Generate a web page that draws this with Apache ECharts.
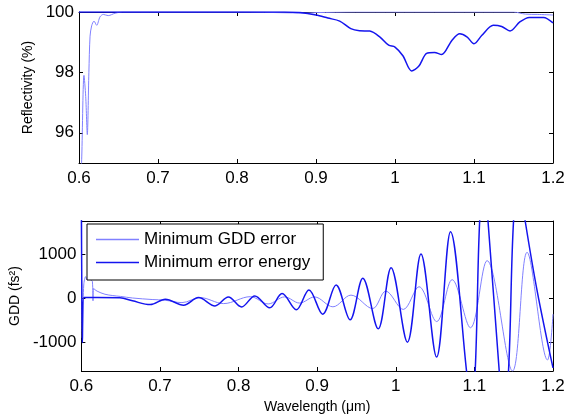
<!DOCTYPE html>
<html>
<head>
<meta charset="utf-8">
<script src="https://cdn.jsdelivr.net/npm/echarts@6/dist/echarts.min.js"></script>
<style>html,body{margin:0;padding:0;background:#fff}#c{width:568px;height:419px}</style>
</head>
<body>
<div id="c"></div>
<script>
// ---- data ----
var seriesNames = ['Minimum GDD error', 'Minimum error energy'];
var xTicks = [0.6, 0.7, 0.8, 0.9, 1.0, 1.1, 1.2];
var reflTicks = [96, 98, 100];
var gddTicks = [-1000, 0, 1000];

// Reflectivity (%) - Minimum GDD error (light)
var reflLightX = [0.6, 0.6035, 0.6063, 0.6085, 0.6105, 0.6125, 0.614, 0.616, 0.619, 0.6224, 0.6266, 0.6308, 0.637, 0.6456, 0.655, 0.70, 0.80, 0.87, 0.885, 0.90, 0.95, 1.0, 1.05, 1.1, 1.15, 1.165, 1.18, 1.2];
var reflLightY = [92, 95.2, 97.9, 97.2, 95.94, 98.0, 99.2, 99.54, 99.7, 99.56, 99.84, 99.92, 99.88, 99.96, 100, 100, 100, 99.97, 99.96, 99.98, 100, 100, 100, 100, 100, 99.93, 99.92, 99.9];

// Reflectivity (%) - Minimum error energy (dark)
var reflDarkX = [0.6, 0.86, 0.88, 0.9, 0.915, 0.93, 0.944, 0.955, 0.968, 0.981, 0.992, 1.0, 1.01, 1.021, 1.03, 1.04, 1.05, 1.059, 1.072, 1.082, 1.091, 1.1, 1.11, 1.1244, 1.135, 1.1456, 1.158, 1.17, 1.188, 1.2];
var reflDarkY = [100, 100, 99.98, 99.9, 99.8, 99.7, 99.45, 99.38, 99.37, 99.17, 98.9, 98.84, 98.55, 98.05, 98.2, 98.63, 98.66, 98.59, 99.06, 99.28, 99.18, 98.95, 99.23, 99.56, 99.52, 99.37, 99.67, 99.82, 99.82, 99.64];

// GDD (fs^2) - Minimum GDD error (light)
var gddLightX = [0.6, 0.6012, 0.603, 0.6055, 0.607, 0.609, 0.6115, 0.614, 0.6148, 0.6155, 0.62, 0.63, 0.64, 0.65, 0.665, 0.69, 0.706, 0.728, 0.751, 0.781, 0.815, 0.8376, 0.8586, 0.8776, 0.8966, 0.92, 0.943, 0.9705, 0.9873, 1.0095, 1.0295, 1.052, 1.0717, 1.095, 1.1161, 1.1485, 1.167, 1.193, 1.2];
var gddLightY = [2000, -900, 300, 490, 420, 500, 420, 380, -60, 220, 160, 90, 60, 40, 5, -30, -45, -100, 14, -122, 35, -130, 30, -110, 29, -195, 70, -235, 160, -255, 260, -530, 420, -670, 851, -1650, 1040, -1400, -360];

// GDD (fs^2) - Minimum error energy (dark)
var gddDarkX = [0.6, 0.6013, 0.603, 0.62, 0.649, 0.665, 0.6877, 0.7068, 0.73, 0.749, 0.77, 0.787, 0.8038, 0.8206, 0.8396, 0.8553, 0.8734, 0.8895, 0.907, 0.924, 0.9418, 0.958, 0.9776, 0.994, 1.0148, 1.032, 1.0519, 1.0696, 1.09, 1.0955, 1.101, 1.1067, 1.112, 1.1173, 1.1316, 1.137, 1.1434, 1.1498, 1.157, 1.1646, 1.18, 1.2];
var gddDarkY = [2500, -1010, 15, 15, 10, -60, -145, -23, -158, 14, -174, 29, -197, 52, -219, 105, -262, 188, -362, 300, -491, 452, -695, 693, -996, 1002, -1335, 1507, -1650, -2600, -1650, 1750, 2600, 1750, -1650, -2600, -1650, 1750, 2700, 1750, 150, -1580];

var reflMin = 95, reflMax = 100;
var gddMin = -1650, gddMax = 1750;

// ---- chart ----
function pairs(xs, ys) { return xs.map(function (x, i) { return [x, ys[i]]; }); }
var lightColor = '#8080ff', darkColor = '#1414ee';
var FONT = 'Liberation Sans, Arial, sans-serif';
var tickLabel = { color: '#000', fontFamily: FONT, fontSize: 17 };
var axLine = { show: true, onZero: false, lineStyle: { color: '#000', width: 1 } };
function axTick(vals) { return { show: true, inside: true, length: 4, customValues: vals, lineStyle: { color: '#000' } }; }

function xAx(grid, pos, labels, name) {
  return {
    type: 'value', gridIndex: grid, position: pos, min: xTicks[0], max: xTicks[xTicks.length - 1],
    axisLine: axLine, axisTick: axTick(xTicks), splitLine: { show: false },
    axisLabel: labels ? Object.assign({ margin: 7, customValues: xTicks, formatter: function (v) { return String(+(+v).toFixed(2)); } }, tickLabel) : { show: false },
    name: name || '', nameLocation: 'middle', nameGap: 29,
    nameTextStyle: { color: '#000', fontFamily: FONT, fontSize: 14 }
  };
}
function yAx(grid, pos, labels, mn, mx, ticks, name, gap) {
  return {
    type: 'value', gridIndex: grid, position: pos, min: mn, max: mx,
    axisLine: axLine, axisTick: axTick(ticks), splitLine: { show: false },
    axisLabel: labels ? Object.assign({ margin: 5, customValues: ticks, formatter: function (v) { return String(Math.round(v)); } }, tickLabel) : { show: false },
    name: name || '', nameLocation: 'middle', nameGap: gap || 40, nameRotate: 90,
    nameTextStyle: { color: '#000', fontFamily: FONT, fontSize: 14 }
  };
}

var chart = echarts.init(document.getElementById('c'), null, { renderer: 'canvas' });
chart.setOption({
  animation: false,
  backgroundColor: '#fff',
  grid: [
    { left: 79, top: 12, width: 474, height: 151, show: false },
    { left: 79, top: 221, width: 474, height: 150, show: false }
  ],
  xAxis: [
    xAx(0, 'bottom', true), xAx(0, 'top', false),
    xAx(1, 'bottom', true, 'Wavelength (\u03bcm)'), xAx(1, 'top', false)
  ],
  yAxis: [
    yAx(0, 'left', true, reflMin, reflMax, reflTicks, 'Reflectivity (%)', 42), yAx(0, 'right', false, reflMin, reflMax, reflTicks),
    yAx(1, 'left', true, gddMin, gddMax, gddTicks, 'GDD (fs\u00b2)', 54), yAx(1, 'right', false, gddMin, gddMax, gddTicks)
  ],
  legend: {
    orient: 'vertical', left: 87, top: 224,
    data: [
      { name: seriesNames[0], icon: 'rect', itemStyle: { color: lightColor } },
      { name: seriesNames[1], icon: 'rect', itemStyle: { color: darkColor } }
    ],
    backgroundColor: '#fff', borderColor: '#000', borderWidth: 1, borderRadius: 0,
    padding: [7, 13, 9, 9], itemGap: 6, itemWidth: 43, itemHeight: 1.5,
    textStyle: { color: '#000', fontFamily: FONT, fontSize: 17, lineHeight: 17 }
  },
  series: [
    { name: seriesNames[0], type: 'line', xAxisIndex: 0, yAxisIndex: 0, data: pairs(reflLightX, reflLightY), symbol: 'none', smooth: 0.3, lineStyle: { color: lightColor, width: 1 }, itemStyle: { color: lightColor } },
    { name: seriesNames[1], type: 'line', xAxisIndex: 0, yAxisIndex: 0, data: pairs(reflDarkX, reflDarkY), symbol: 'none', smooth: 0.3, lineStyle: { color: darkColor, width: 1.5 }, itemStyle: { color: darkColor } },
    { name: seriesNames[0], type: 'line', xAxisIndex: 2, yAxisIndex: 2, data: pairs(gddLightX, gddLightY), symbol: 'none', smooth: 0.35, lineStyle: { color: lightColor, width: 1 }, itemStyle: { color: lightColor } },
    { name: seriesNames[1], type: 'line', xAxisIndex: 2, yAxisIndex: 2, data: pairs(gddDarkX, gddDarkY), symbol: 'none', smooth: 0.35, lineStyle: { color: darkColor, width: 1.5 }, itemStyle: { color: darkColor } }
  ]
});
</script>
</body>
</html>
